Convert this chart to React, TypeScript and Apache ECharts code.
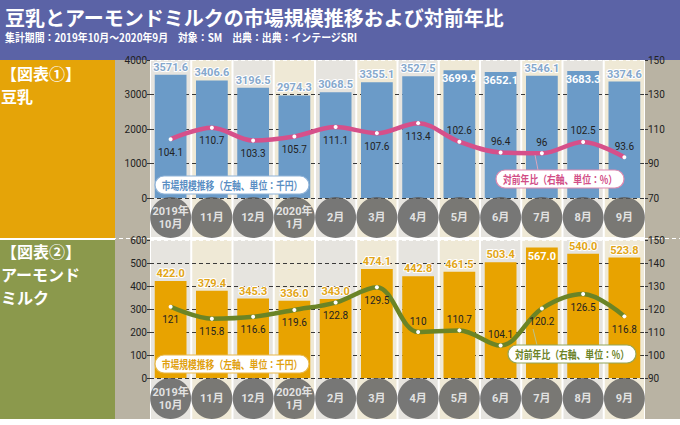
import React, { useEffect, useRef } from "react";
import * as echarts from "echarts";

// ---- data ----
const months = ["2019年\n10月", "11月", "12月", "2020年\n1月", "2月", "3月", "4月", "5月", "6月", "7月", "8月", "9月"];
const soyMarket = [3571.6, 3406.6, 3196.5, 2974.3, 3068.5, 3355.1, 3527.5, 3699.9, 3652.1, 3546.1, 3683.3, 3374.6];
const soyYoY = [104.1, 110.7, 103.3, 105.7, 111.1, 107.6, 113.4, 102.6, 96.4, 96, 102.5, 93.6];
const almondMarket = [422.0, 379.4, 345.3, 336.0, 343.0, 474.1, 442.8, 461.5, 503.4, 567.0, 540.0, 523.8];
const almondYoY = [121, 115.8, 116.6, 119.6, 122.8, 129.5, 110, 110.7, 104.1, 120.2, 126.5, 116.8];
// axis ranges [min, max, interval]
const soyLeftAxis = [0, 4000, 1000];
const soyRightAxis = [70, 150, 20];
const almondLeftAxis = [0, 600, 100];
const almondRightAxis = [90, 150, 10];

// ---- text ----
const TITLE = "豆乳とアーモンドミルクの市場規模推移および対前年比";
const SUBTITLE = "集計期間：2019年10月～2020年9月　対象：SM　出典：出典：インテージSRI";
const PANEL1 = ["【図表①】", "豆乳"];
const PANEL2 = ["【図表②】", "アーモンド", "ミルク"];
const LEGEND_BAR = "市場規模推移（左軸、単位：千円）";
const LEGEND_LINE = "対前年比（右軸、単位：%）";

// label placement (style)
const soyYoYPos = ["bottom", "bottom", "bottom", "bottom", "bottom", "bottom", "bottom", "top", "top", "top", "top", "top"];
const almondYoYPos = ["bottom", "bottom", "bottom", "bottom", "bottom", "bottom", "top", "top", "top", "bottom", "bottom", "bottom"];

const CJK = "'Noto Sans CJK JP', sans-serif";
const NUM = "'Liberation Sans Narrow', 'Roboto', 'Noto Sans CJK JP', sans-serif";

const STRIPES = ["#e6e4df", "#efe9d6"];

function categoryAxis(gridIndex: number) {
  return {
    type: "category",
    gridIndex,
    data: months,
    axisLine: { show: false },
    axisTick: { show: false },
    axisLabel: { show: false },
    splitLine: { show: false },
    splitArea: { show: false },
  };
}

function valueAxis(gridIndex: number, range: number[], position: string) {
  const n = Math.round((range[1] - range[0]) / range[2]);
  const colors: string[] = [];
  for (let i = 0; i <= n; i++) colors.push(i === n ? "rgba(255,255,255,0.9)" : "#3a3a3a");
  return {
    type: "value",
    gridIndex,
    position,
    min: range[0],
    max: range[1],
    interval: range[2],
    axisLine: { show: false },
    axisTick: { show: true, length: 3, lineStyle: { color: "#333" } },
    axisLabel: {
      color: "#222",
      fontSize: 10,
      fontFamily: NUM,
      margin: 3,
      formatter: (v: number) => String(v),
    },
    splitLine: position === "left"
      ? { show: true, lineStyle: { color: colors, type: [4, 3], width: 1 } }
      : { show: false },
  };
}

function hiddenAxis(gridIndex: number) {
  return { type: "value", gridIndex, min: 0, max: 1, show: false, splitLine: { show: false } };
}

function barSeries(values: number[], xIdx: number, yIdx: number, max: number, color: string, labelColor: string) {
  return {
    type: "bar",
    xAxisIndex: xIdx,
    yAxisIndex: yIdx,
    barWidth: "77%",
    itemStyle: { color },
    data: values.map((v) => {
      const inside = v / max > 0.91;
      return {
        value: v,
        label: inside
          ? { position: "insideTop", distance: 3, color: "#ffffff", textBorderWidth: 0 }
          : { position: "top", distance: 2 },
      };
    }),
    label: {
      show: true,
      formatter: (p: any) => Number(p.value).toFixed(1),
      color: labelColor,
      textBorderColor: "#ffffff",
      textBorderWidth: 2,
      fontSize: 11,
      fontWeight: "bold",
      fontFamily: NUM,
    },
  };
}

function lineSeries(values: number[], pos: string[], xIdx: number, yIdx: number, color: string) {
  return {
    type: "line",
    xAxisIndex: xIdx,
    yAxisIndex: yIdx,
    smooth: 0.35,
    symbol: "circle",
    symbolSize: 4,
    itemStyle: { color: "#ffffff" },
    lineStyle: { color, width: 4.5 },
    z: 5,
    data: values.map((v, i) => ({
      value: v,
      label: { position: pos[i], distance: pos[i] === "top" ? 4 : 6 },
    })),
    label: {
      show: true,
      formatter: (p: any) => String(p.value),
      color: "#222",
      fontSize: 10,
      fontFamily: NUM,
    },
  };
}

function circleSeries(xIdx: number, yIdx: number) {
  return {
    type: "scatter",
    xAxisIndex: xIdx,
    yAxisIndex: yIdx,
    symbol: "circle",
    symbolSize: 41,
    itemStyle: { color: "#5b5b5b" },
    data: months.map((m, i) => [i, 0.5]),
    label: {
      show: true,
      position: "inside",
      formatter: (p: any) => months[p.dataIndex],
      color: "#ffffff",
      fontSize: 11,
      fontWeight: "bold",
      lineHeight: 13,
      fontFamily: NUM,
    },
  };
}

function callout(cx: number, cy: number, w: number, text: string, color: string, stroke: string) {
  return [
    {
      type: "rect",
      z: 100,
      shape: { x: cx - w / 2, y: cy - 9, width: w, height: 18, r: 9 },
      style: { fill: "#ffffff", stroke, lineWidth: 1.2 },
    },
    {
      type: "text",
      z: 101,
      x: cx,
      y: cy,
      scaleX: 0.8,
      style: {
        text,
        fill: color,
        fontSize: 11,
        fontWeight: "bold",
        fontFamily: CJK,
        align: "center",
        verticalAlign: "middle",
      },
    },
  ];
}

function panelTexts(lines: string[], top: number) {
  return lines.map((t, i) => ({
    type: "text",
    x: 1,
    y: top + i * 23,
    style: { text: t, fill: "#ffffff", fontSize: 16, fontWeight: "bold", fontFamily: CJK, verticalAlign: "middle" },
  }));
}

// panel vertical extents for the column stripes (top, bottom)
const PANEL_TOP = [60, 237];
const PANEL_BOTTOM = [240, 419];

export default function App() {
  const ref = useRef<HTMLDivElement>(null);

  useEffect(() => {
    if (!ref.current) return;
    const chart = echarts.init(ref.current, undefined, { renderer: "svg" });

    const baseGraphics: any[] = [
      { type: "rect", z: -30, shape: { x: 0, y: 0, width: 680, height: 60 }, style: { fill: "#5b63a6" } },
      { type: "rect", z: -30, shape: { x: 0, y: 60, width: 115, height: 178 }, style: { fill: "#e5a408" } },
      { type: "rect", z: -30, shape: { x: 0, y: 240, width: 115, height: 179 }, style: { fill: "#8b994c" } },
      { type: "rect", z: -30, shape: { x: 115, y: 60, width: 35, height: 359 }, style: { fill: "#b9b3a3" } },
      { type: "rect", z: -30, shape: { x: 645, y: 60, width: 35, height: 359 }, style: { fill: "#b9b3a3" } },
      {
        type: "line", z: -5,
        shape: { x1: 0, y1: 238.5, x2: 680, y2: 238.5 },
        style: { stroke: "#ffffff", lineWidth: 1.2, lineDash: [4, 3] },
      },
      {
        type: "text", x: 5, y: 17,
        style: { text: TITLE, fill: "#ffffff", fontSize: 20, fontWeight: "bold", fontFamily: CJK, verticalAlign: "middle" },
      },
      {
        type: "text", x: 5, y: 37, scaleX: 0.9,
        style: { text: SUBTITLE, fill: "#ffffff", fontSize: 11, fontWeight: "bold", fontFamily: CJK, verticalAlign: "middle" },
      },
      ...panelTexts(PANEL1, 73),
      ...panelTexts(PANEL2, 251),
      {
        type: "line", z: 99,
        shape: { x1: 535, y1: 155, x2: 538, y2: 170 },
        style: { stroke: "#d9a5bd", lineWidth: 1 },
      },
      {
        type: "line", z: 99,
        shape: { x1: 533, y1: 329, x2: 537, y2: 345 },
        style: { stroke: "#b9c28f", lineWidth: 1 },
      },
      ...callout(232, 185, 154, LEGEND_BAR, "#5a8ec3", "#8fb3d8"),
      ...callout(560, 179, 128, LEGEND_LINE, "#d24d86", "#e08ab0"),
      ...callout(232, 364, 154, LEGEND_BAR, "#e0a010", "#e8b84a"),
      ...callout(572, 354, 128, LEGEND_LINE, "#6b8226", "#94a65a"),
    ];

    chart.setOption({
      animation: false,
      backgroundColor: "#ffffff",
      textStyle: { fontFamily: CJK },
      grid: [
        { left: 150, right: 35, top: 60, height: 138 },
        { left: 150, right: 35, top: 198, height: 39 },
        { left: 150, right: 35, top: 240, height: 138 },
        { left: 150, right: 35, top: 378, height: 41 },
      ],
      xAxis: [categoryAxis(0), categoryAxis(1), categoryAxis(2), categoryAxis(3)],
      yAxis: [
        valueAxis(0, soyLeftAxis, "left"),
        valueAxis(0, soyRightAxis, "right"),
        hiddenAxis(1),
        valueAxis(2, almondLeftAxis, "left"),
        valueAxis(2, almondRightAxis, "right"),
        hiddenAxis(3),
      ],
      series: [
        barSeries(soyMarket, 0, 0, soyLeftAxis[1], "#6b9bc8", "#86a8cc"),
        lineSeries(soyYoY, soyYoYPos, 0, 1, "#d6508a"),
        circleSeries(1, 2),
        barSeries(almondMarket, 2, 3, almondLeftAxis[1], "#e8a300", "#e2a516"),
        lineSeries(almondYoY, almondYoYPos, 2, 4, "#6b8426"),
        circleSeries(3, 5),
      ],
    });

    // column stripes placed through the category axis scale
    const stripes: any[] = [];
    const c0 = chart.convertToPixel({ xAxisIndex: 0 }, 0) as number;
    const c1 = chart.convertToPixel({ xAxisIndex: 0 }, 1) as number;
    const bw = c1 - c0;
    months.forEach((_, i) => {
      const cx = chart.convertToPixel({ xAxisIndex: 0 }, i) as number;
      [PANEL_TOP, PANEL_BOTTOM].forEach((p) => {
        stripes.push({
          type: "rect",
          z: -20,
          shape: { x: cx - bw / 2 + 1, y: p[0], width: bw - 2, height: p[1] - p[0] },
          style: { fill: STRIPES[i % 2] },
        });
      });
    });

    chart.setOption({ graphic: { elements: [...baseGraphics, ...stripes] } });

    return () => chart.dispose();
  }, []);

  return <div ref={ref} style={{ position: "absolute", left: 0, top: 0, width: 680, height: 425 }} />;
}
